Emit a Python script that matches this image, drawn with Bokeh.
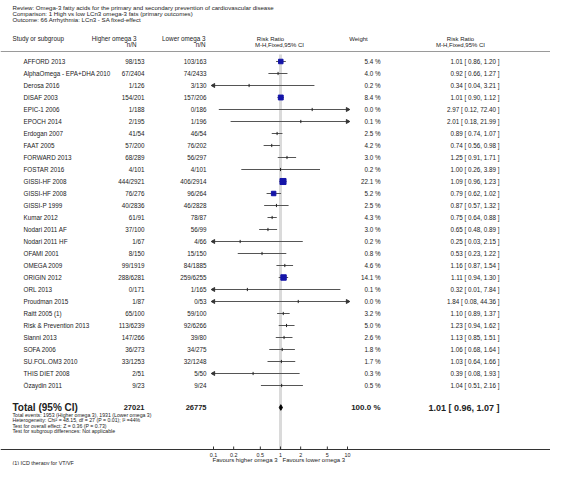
import numpy as np
from bokeh.plotting import figure
from bokeh.models import Range1d, LogScale, ColumnDataSource, Span
from bokeh.core.properties import value
from bokeh.embed import file_html
from bokeh.resources import INLINE

# ---------------- data ----------------
studies = ["AFFORD 2013", "AlphaOmega - EPA+DHA 2010", "Derosa 2016", "DISAF 2003",
           "EPIC-1 2006", "EPOCH 2014", "Erdogan 2007", "FAAT 2005", "FORWARD 2013",
           "FOSTAR 2016", "GISSI-HF 2008", "GISSI-HF 2008", "GISSI-P 1999", "Kumar 2012",
           "Nodari 2011 AF", "Nodari 2011 HF", "OFAMI 2001", "OMEGA 2009", "ORIGIN 2012",
           "ORL 2013", "Proudman 2015", "Raitt 2005 (1)", "Risk & Prevention 2013",
           "Sianni 2013", "SOFA 2006", "SU.FOL.OM3 2010", "THIS DIET 2008", "Özaydin 2011"]
higher_nN = ["98/153", "67/2404", "1/126", "154/201", "1/188", "2/195", "41/54", "57/200",
             "68/289", "4/101", "444/2921", "76/276", "40/2836", "61/91", "37/100", "1/67",
             "8/150", "99/1919", "288/6281", "0/171", "1/87", "65/100", "113/6239",
             "147/266", "36/273", "33/1253", "2/51", "9/23"]
lower_nN = ["103/163", "74/2433", "3/130", "157/206", "0/186", "1/196", "46/54", "76/202",
            "56/297", "4/101", "406/2914", "96/264", "46/2828", "78/87", "56/99", "4/66",
            "15/150", "84/1885", "259/6255", "1/165", "0/53", "59/100", "92/6266",
            "39/80", "34/275", "32/1248", "5/50", "9/24"]
weights = [5.4, 4.0, 0.2, 8.4, 0.0, 0.1, 2.5, 4.2, 3.0, 0.2, 22.1, 5.2, 2.5, 4.3,
           3.0, 0.2, 0.8, 4.6, 14.1, 0.1, 0.0, 3.2, 5.0, 2.6, 1.8, 1.7, 0.3, 0.5]
rr = [1.01, 0.92, 0.34, 1.01, 2.97, 2.01, 0.89, 0.74, 1.25, 1.00, 1.09, 0.79, 0.87, 0.75,
      0.65, 0.25, 0.53, 1.16, 1.11, 0.32, 1.84, 1.10, 1.23, 1.13, 1.06, 1.03, 0.39, 1.04]
ci_lo = [0.86, 0.66, 0.04, 0.90, 0.12, 0.18, 0.74, 0.56, 0.91, 0.26, 0.96, 0.62, 0.57, 0.64,
         0.48, 0.03, 0.23, 0.87, 0.94, 0.01, 0.08, 0.89, 0.94, 0.85, 0.68, 0.64, 0.08, 0.51]
ci_hi = [1.20, 1.27, 3.21, 1.12, 72.40, 21.99, 1.07, 0.98, 1.71, 3.89, 1.23, 1.02, 1.32, 0.88,
         0.89, 2.15, 1.22, 1.54, 1.30, 7.84, 44.36, 1.37, 1.62, 1.51, 1.64, 1.66, 1.93, 2.16]

total_higher = "27021"
total_lower = "26775"
total_weight = 100.0
total_rr = 1.01
total_lo = 0.96
total_hi = 1.07

axis_ticks = [0.1, 0.2, 0.5, 1, 2, 5, 10]
axis_tick_labels = ["0.1", "0.2", "0.5", "1", "2", "5", "10"]
axis_min, axis_max = 0.1, 10

header_lines = ["Review:   Omega-3 fatty acids for the primary and secondary prevention of cardiovascular disease",
                "Comparison:   1 High vs low LCn3 omega-3 fats (primary outcomes)",
                "Outcome:   66 Arrhythmia: LCn3 - SA fixed-effect"]
stats_lines = ["Total events: 1953 (Higher omega 3), 1931 (Lower omega 3)",
               "Heterogeneity: Chi² = 48.15, df = 27 (P = 0.01); I² =44%",
               "Test for overall effect: Z = 0.36 (P = 0.73)",
               "Test for subgroup differences: Not applicable"]
favours_left = "Favours higher omega 3"
favours_right = "Favours lower omega 3"
footnote = "(1) ICD therapy for VT/VF"

# ---------------- layout ----------------
W, H = 550, 465
X_ONE = 280          # pixel of RR = 1
PX_DECADE = 67       # pixels per decade
ROW0, ROW_H = 61, 12
FONT = value("Liberation Sans")
TXT = "#222222"

p = figure(width=W, height=H, output_backend="svg", toolbar_location=None,
           x_range=Range1d(0, W), y_range=Range1d(H, 0), min_border=0)
p.axis.visible = False
p.grid.visible = False
p.outline_line_color = None
p.background_fill_color = "white"
p.border_fill_color = "white"
p.extra_x_ranges = {"rr": Range1d(10 ** (-X_ONE / PX_DECADE), 10 ** ((W - X_ONE) / PX_DECADE))}
p.extra_x_scales = {"rr": LogScale()}

n = len(studies)
ys = [ROW0 + ROW_H * i for i in range(n)]


def txt(x, y, t, size="6.3px", align="left", bold=False, color=TXT):
    p.text(x=x, y=y, text=t, text_font=FONT, text_font_size=size, text_align=align,
           text_baseline="middle", text_color=color,
           text_font_style="bold" if bold else "normal")


# header texts
for i, line in enumerate(header_lines):
    txt([12], [6.5 + 6 * i], [line], size="6.1px")
txt([12], [38], ["Study or subgroup"])
txt([136], [38], ["Higher omega 3"], align="right")
txt([136], [44], ["n/N"], align="right")
txt([205], [38], ["Lower omega 3"], align="right")
txt([205], [44], ["n/N"], align="right")
txt([270], [38], ["Risk Ratio"], align="center", size="6px")
txt([279], [44], ["M-H,Fixed,95% CI"], align="center", size="6px")
txt([358], [38], ["Weight"], align="center", size="6px")
txt([460], [38], ["Risk Ratio"], align="center", size="6px")
txt([460], [44], ["M-H,Fixed,95% CI"], align="center", size="6px")

p.add_layout(Span(location=51, dimension="width", line_color="#9a9a9a", line_width=1))

# reference line at RR = 1
AXIS_Y = 449
p.segment(x0=[1], x1=[1], y0=[54], y1=[AXIS_Y], line_color="#dadada", line_width=3,
          x_range_name="rr")

# study rows
src = ColumnDataSource(dict(
    y=ys, name=studies, hi_t=higher_nN, lo_t=lower_nN,
    w_t=[f"{w:.1f} %" for w in weights],
    rr_t=[f"{r:.2f} [ {a:.2f}, {b:.2f} ]" for r, a, b in zip(rr, ci_lo, ci_hi)],
    x0=[max(a, axis_min) for a in ci_lo], x1=[min(b, axis_max) for b in ci_hi],
    rr=rr, yt0=[y - 1.6 for y in ys], yt1=[y + 1.6 for y in ys],
))
for col, x, al in [("name", 23, "left"), ("hi_t", 144, "right"), ("lo_t", 206, "right"),
                   ("w_t", 380, "right"), ("rr_t", 499, "right")]:
    p.text(x=x, y="y", text=col, source=src, text_font=FONT, text_font_size="6.3px",
           text_align=al, text_baseline="middle", text_color=TXT)

p.segment(x0="x0", x1="x1", y0="y", y1="y", source=src, line_color="#555555",
          line_width=1, x_range_name="rr")
p.segment(x0="rr", x1="rr", y0="yt0", y1="yt1", source=src, line_color="#222222",
          line_width=1, x_range_name="rr")

# arrowheads where CI is off scale
left_y = [y for y, a in zip(ys, ci_lo) if a < axis_min]
right_y = [y for y, b in zip(ys, ci_hi) if b > axis_max]
p.scatter(x=[axis_min] * len(left_y), y=left_y, marker="triangle", size=4,
          angle=np.pi / 2, color="#333333", x_range_name="rr")
p.scatter(x=[axis_max] * len(right_y), y=right_y, marker="triangle", size=4,
          angle=-np.pi / 2, color="#333333", x_range_name="rr")

# weight squares
sq = [(r, y, w) for r, y, w in zip(rr, ys, weights) if w > 5.1]
p.scatter(x=[s[0] for s in sq], y=[s[1] for s in sq],
          size=[3 + 0.65 * np.sqrt(s[2]) for s in sq], marker="square",
          fill_color="#1414a8", line_color="#1414a8", x_range_name="rr")

# total row
YT = 407
txt([12], [YT], ["Total (95% CI)"], size="10px", bold=True)
txt([144], [YT], [total_higher], size="7.5px", bold=True, align="right")
txt([206], [YT], [total_lower], size="7.5px", bold=True, align="right")
txt([380], [YT], [f"{total_weight:.1f} %"], size="8px", bold=True, align="right")
txt([499], [YT], [f"{total_rr:.2f} [ {total_lo:.2f}, {total_hi:.2f} ]"], size="9px",
    bold=True, align="right")
p.patch(x=[total_lo, total_rr, total_hi, total_rr], y=[YT, YT - 2.8, YT, YT + 2.8],
        fill_color="black", line_color="black", x_range_name="rr")

for i, line in enumerate(stats_lines):
    txt([12], [414 + 5.6 * i], [line], size="5.2px")

# axis
p.add_layout(Span(location=AXIS_Y, dimension="width", line_color="#333333", line_width=1))
p.segment(x0=axis_ticks, x1=axis_ticks, y0=[AXIS_Y - 3] * len(axis_ticks),
          y1=[AXIS_Y] * len(axis_ticks),
          line_color="#333333", line_width=1, x_range_name="rr")
p.text(x=axis_ticks, y=[AXIS_Y + 5] * len(axis_ticks), text=axis_tick_labels, text_font=FONT,
       text_font_size="5.4px", text_align="center", text_baseline="middle",
       text_color=TXT, x_range_name="rr")
txt([277], [AXIS_Y + 10.5], [favours_left], size="6px", align="right")
txt([282], [AXIS_Y + 10.5], [favours_right], size="6px")
txt([12], [462.3], [footnote], size="5.4px")

open("out.html", "w").write(file_html(p, INLINE))
